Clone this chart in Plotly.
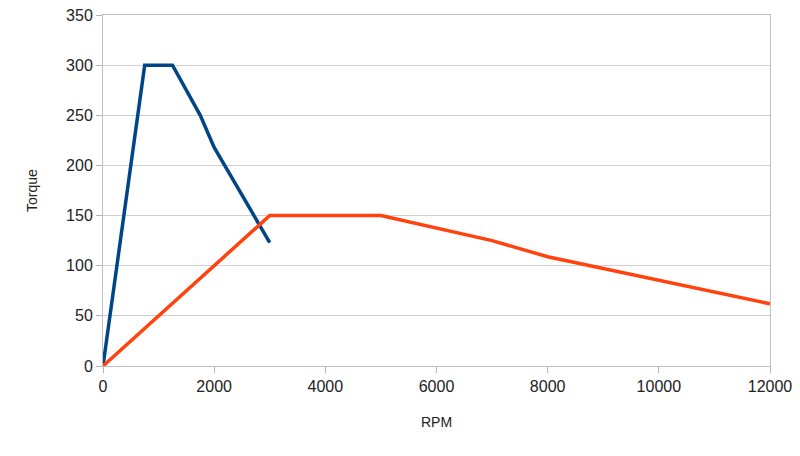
import plotly.graph_objects as go

# engine torque curves
blue_rpm = [0, 750, 1250, 1750, 2000, 3000]
blue_torque = [0, 300, 300, 250, 218, 123]

orange_rpm = [0, 3000, 5000, 7000, 8000, 12000]
orange_torque = [0, 150, 150, 125, 109, 62]

x_ticks = [0, 2000, 4000, 6000, 8000, 10000, 12000]
x_labels = ["0", "2000", "4000", "6000", "8000", "10000", "12000"]
y_ticks = [0, 50, 100, 150, 200, 250, 300, 350]

fig = go.Figure()
fig.add_trace(go.Scatter(
    x=blue_rpm, y=blue_torque, mode="lines",
    line=dict(color="#004586", width=3.5), showlegend=False
))
fig.add_trace(go.Scatter(
    x=orange_rpm, y=orange_torque, mode="lines",
    line=dict(color="#ff420e", width=3.5), showlegend=False
))

# page body has an 8px margin, so the margins are shifted to compensate
fig.update_layout(
    width=800, height=456,
    margin=dict(l=95, r=38, t=7, b=98),
    plot_bgcolor="white", paper_bgcolor="white",
    font=dict(family="Liberation Sans", size=16, color="#222"),
)
fig.update_xaxes(
    range=[0, 12000], tickvals=x_ticks, ticktext=x_labels,
    title=dict(text="RPM", font=dict(size=14), standoff=22),
    showgrid=False, showline=True, linecolor="#c0c0c0", linewidth=1, mirror=True,
    ticks="outside", ticklen=6, tickcolor="#b3b3b3", zeroline=False,
    ticklabeloverflow="allow", automargin=False,
)
fig.update_yaxes(
    range=[0, 350], tickvals=y_ticks, title=dict(text="Torque", font=dict(size=14), standoff=25),
    showgrid=True, gridcolor="#d0d0d0", showline=True, linecolor="#c0c0c0", linewidth=1,
    mirror=True, ticks="outside", ticklen=6, tickcolor="#b3b3b3", zeroline=False,
    ticklabeloverflow="allow", automargin=False,
)

fig.write_html("out.html")
